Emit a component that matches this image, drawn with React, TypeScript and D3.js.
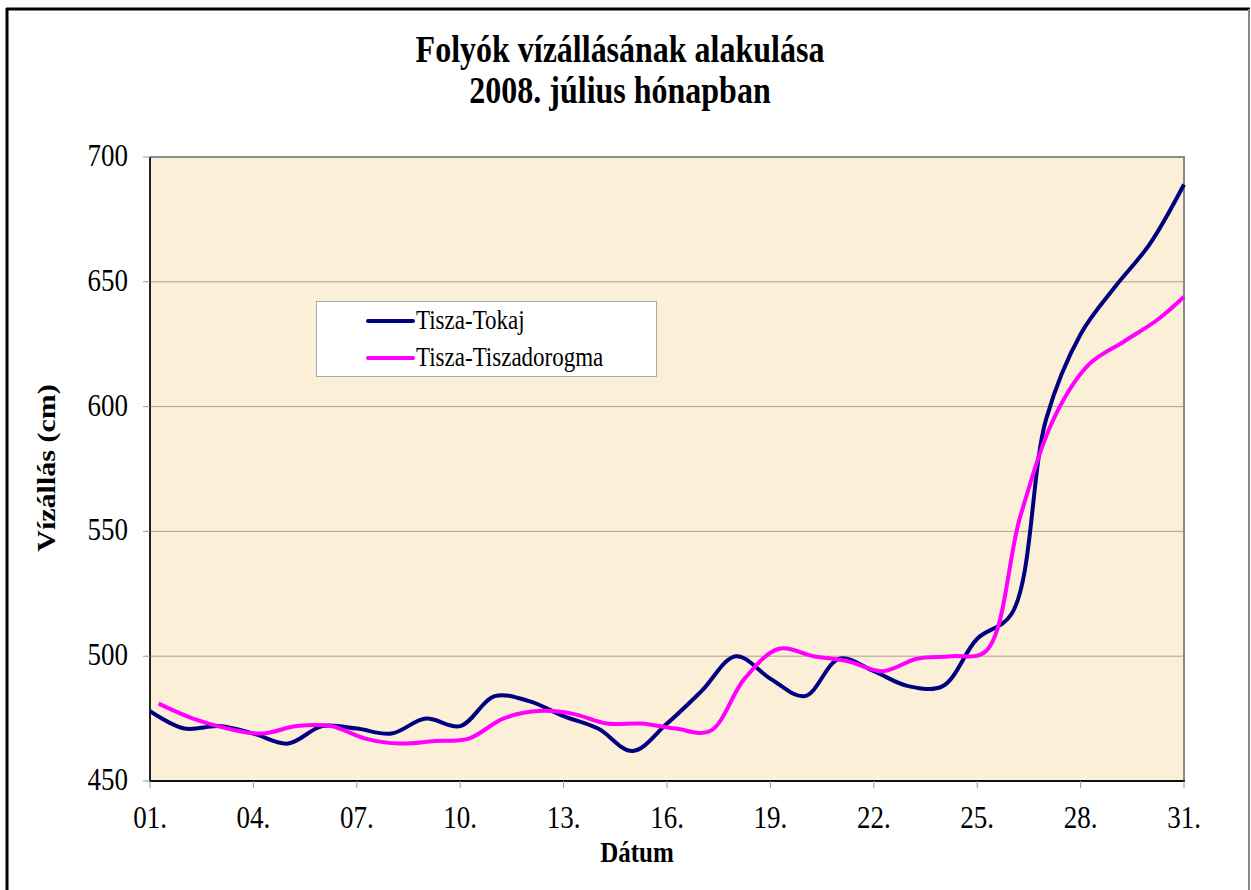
import { useEffect, useRef } from 'react';
import * as d3 from 'd3';

// napok (július)
const tokajDays = [1, 2, 3, 4, 5, 6, 7, 8, 9, 10, 11, 12, 13, 14, 15, 16, 17, 18, 19, 20, 21, 22, 23, 24, 25, 26, 27, 28, 29, 30, 31];
const tokajValues = [478, 471, 472, 469, 465, 472, 471, 469, 475, 472, 484, 482, 476, 471, 462, 473, 486, 500, 491, 484, 499, 494, 488, 488, 507, 517, 595, 629, 648, 665, 689];

const dorogmaDays = [1.25, 2.25, 3.25, 4.25, 5.25, 6.25, 7.25, 8.25, 9.25, 10.25, 11.25, 12.25, 13.25, 14.25, 15.25, 16.25, 17.25, 18.25, 19.25, 20.25, 21.25, 22.25, 23.25, 24.25, 25.25, 26.25, 27.25, 28.25, 29.25, 30.25, 31];
const dorogmaValues = [481, 475, 471, 469, 472, 472, 467, 465, 466, 467, 475, 478, 477, 473, 473, 471, 470, 491, 503, 500, 498, 494, 499, 500, 502, 556, 596, 617, 626, 635, 644];

const xTickDays = [1, 4, 7, 10, 13, 16, 19, 22, 25, 28, 31];
const xTickLabels = ['01.', '04.', '07.', '10.', '13.', '16.', '19.', '22.', '25.', '28.', '31.'];
const yTicks = [450, 500, 550, 600, 650, 700];

const seriesNames = ['Tisza-Tokaj', 'Tisza-Tiszadorogma'];
const seriesColors = ['#000080', '#FF00FF'];

const App = () => {
  const svgRef = useRef<SVGSVGElement>(null);

  useEffect(() => {
    const W = 1251;
    const H = 890;
    const plot = { left: 150, right: 1184, top: 157, bottom: 781 };
    const stretch = 1.2; // the original is a bit taller than wide
    const serif = '"Liberation Serif", "Times New Roman", serif';

    const svg = d3.select(svgRef.current)
      .attr('width', W)
      .attr('height', H);
    svg.selectAll('*').remove();

    svg.append('rect').attr('width', W).attr('height', H).attr('fill', '#fff');

    // outer frame
    svg.append('line').attr('x1', 7).attr('x2', 7).attr('y1', 8).attr('y2', H)
      .attr('stroke', '#000').attr('stroke-width', 3);
    svg.append('line').attr('x1', 6).attr('x2', 1250).attr('y1', 9).attr('y2', 9)
      .attr('stroke', '#000').attr('stroke-width', 3);
    svg.append('line').attr('x1', 1249).attr('x2', 1249).attr('y1', 9).attr('y2', H)
      .attr('stroke', '#888').attr('stroke-width', 2);

    const xScale = d3.scaleLinear().domain([1, 31]).range([plot.left, plot.right]);
    const yScale = d3.scaleLinear().domain([450, 700]).range([plot.bottom, plot.top]);

    // plot area
    svg.append('rect')
      .attr('x', plot.left).attr('y', plot.top)
      .attr('width', plot.right - plot.left).attr('height', plot.bottom - plot.top)
      .attr('fill', '#FBEFD8');

    svg.selectAll('.grid')
      .data(yTicks.slice(1, -1))
      .enter().append('line')
      .attr('class', 'grid')
      .attr('x1', plot.left).attr('x2', plot.right)
      .attr('y1', d => yScale(d)).attr('y2', d => yScale(d))
      .attr('stroke', '#A8A196').attr('stroke-width', 1);

    // gray top / right border
    svg.append('path')
      .attr('d', `M${plot.left},${plot.top}H${plot.right}V${plot.bottom}`)
      .attr('fill', 'none').attr('stroke', '#8a8a8a').attr('stroke-width', 2);

    // axes
    svg.append('line').attr('x1', plot.left).attr('x2', plot.left)
      .attr('y1', plot.top).attr('y2', plot.bottom + 1)
      .attr('stroke', '#222').attr('stroke-width', 2);
    svg.append('line').attr('x1', plot.left - 1).attr('x2', plot.right + 1)
      .attr('y1', plot.bottom).attr('y2', plot.bottom)
      .attr('stroke', '#111').attr('stroke-width', 2);

    svg.selectAll('.ytick')
      .data(yTicks)
      .enter().append('line')
      .attr('class', 'ytick')
      .attr('x1', plot.left - 7).attr('x2', plot.left)
      .attr('y1', d => yScale(d)).attr('y2', d => yScale(d))
      .attr('stroke', '#999').attr('stroke-width', 1);

    svg.selectAll('.xtick')
      .data(xTickDays)
      .enter().append('line')
      .attr('class', 'xtick')
      .attr('x1', d => xScale(d)).attr('x2', d => xScale(d))
      .attr('y1', plot.bottom).attr('y2', plot.bottom + 7)
      .attr('stroke', '#999').attr('stroke-width', 1);

    const addText = (x: number, y: number, txt: string, size: number, opts: { bold?: boolean, anchor?: string, rotate?: number } = {}) => {
      svg.append('text')
        .attr('transform', `translate(${x},${y}) scale(1,${stretch})${opts.rotate ? ` rotate(${opts.rotate})` : ''}`)
        .attr('text-anchor', opts.anchor || 'middle')
        .attr('font-family', serif)
        .attr('font-size', size)
        .attr('font-weight', opts.bold ? 'bold' : 'normal')
        .attr('fill', '#000')
        .text(txt);
    };

    yTicks.forEach(v => addText(128, yScale(v) + 9, String(v), 27, { anchor: 'end' }));
    xTickDays.forEach((d, i) => addText(xScale(d), 828, xTickLabels[i], 27));

    addText(620, 62, 'Folyók vízállásának alakulása', 32, { bold: true });
    addText(620, 103, '2008. július hónapban', 32, { bold: true });
    addText(637, 862, 'Dátum', 25, { bold: true });
    addText(55, 468, 'Vízállás (cm)', 25, { bold: true, rotate: -90 });

    const line = d3.line<[number, number]>()
      .x(d => xScale(d[0]))
      .y(d => yScale(d[1]))
      .curve(d3.curveCatmullRom.alpha(0.5));

    const series: [number, number][][] = [
      tokajDays.map((d, i) => [d, tokajValues[i]]),
      dorogmaDays.map((d, i) => [d, dorogmaValues[i]])
    ];

    svg.selectAll('.line')
      .data(series)
      .enter().append('path')
      .attr('class', 'line')
      .attr('fill', 'none')
      .attr('stroke', (_, i) => seriesColors[i])
      .attr('stroke-width', 4)
      .attr('stroke-linejoin', 'round')
      .attr('d', d => line(d));

    // legend
    const legend = svg.append('g');
    legend.append('rect')
      .attr('x', 316.5).attr('y', 301.5).attr('width', 340).attr('height', 75)
      .attr('fill', '#fff').attr('stroke', '#aaa').attr('stroke-width', 1);
    seriesNames.forEach((name, i) => {
      const y = 321 + i * 37;
      legend.append('line')
        .attr('x1', 368).attr('x2', 413).attr('y1', y).attr('y2', y)
        .attr('stroke', seriesColors[i]).attr('stroke-width', 4).attr('stroke-linecap', 'round');
      legend.append('text')
        .attr('transform', `translate(416,${y + 8}) scale(1,${stretch})`)
        .attr('font-family', serif)
        .attr('font-size', 23)
        .attr('fill', '#000')
        .text(name);
    });
  }, []);

  return (
    <div>
      <svg ref={svgRef} style={{ position: 'absolute', left: 0, top: 0 }} />
    </div>
  );
};

export default App;
